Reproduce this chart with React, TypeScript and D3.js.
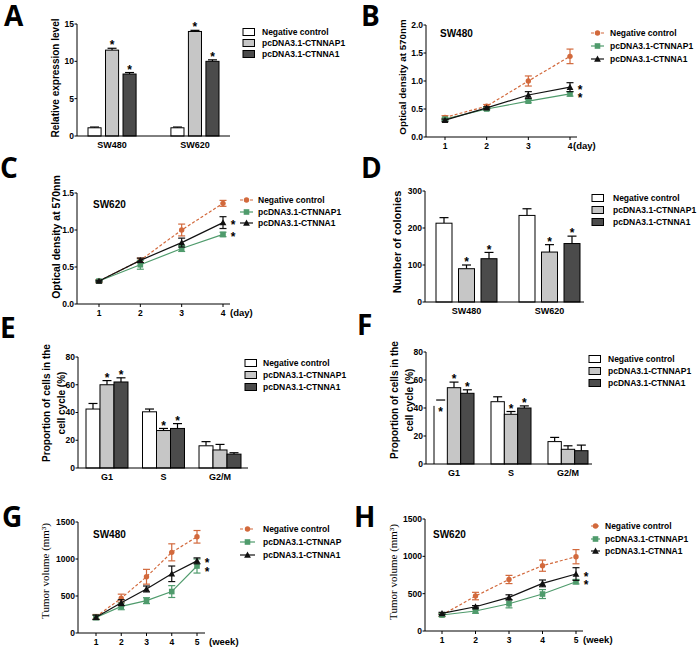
import React from 'react';
import * as d3 from 'd3';

const FONT = "'Liberation Sans', Arial, Helvetica, sans-serif";
const SERIF = "'Liberation Serif', 'Times New Roman', serif";
const LABEL_FONT = "'Open Sans', 'Noto Sans', sans-serif";

const SERIES = ['Negative control', 'pcDNA3.1-CTNNAP1', 'pcDNA3.1-CTNNA1'];
const SERIES_G = ['Negative control', 'pcDNA3.1-CTNNAP', 'pcDNA3.1-CTNNA1'];
const BAR_FILLS = ['#ffffff', '#c6c6c6', '#4b4b4b'];
const LINE_COLORS = ['#d2693c', '#4f9b6c', '#111111'];

// Panel A – relative expression
const aGroups = ['SW480', 'SW620'];
const aMeans = [[1.1, 11.5, 8.3], [1.1, 14.0, 10.0]];
const aErrs = [[0.1, 0.25, 0.2], [0.1, 0.15, 0.2]];
const aSig = [[0, 1, 1], [0, 1, 1]];
const aTicks = [0, 5, 10, 15];

// Panel D – colonies
const dGroups = ['SW480', 'SW620'];
const dMeans = [[213, 90, 117], [234, 135, 158]];
const dErrs = [[15, 10, 17], [18, 20, 20]];
const dSig = [[0, 1, 1], [0, 1, 1]];
const dTicks = [0, 100, 200, 300];

// Panel E – cell cycle SW480
const phaseGroups = ['G1', 'S', 'G2/M'];
const eMeans = [[42.5, 60, 62], [40.5, 27, 28.5], [16, 13, 10]];
const eErrs = [[4, 3, 3], [2, 1.5, 3.5], [3, 4, 1]];
const eSig = [[0, 1, 1], [0, 1, 1], [0, 0, 0]];
const pctTicks = [0, 20, 40, 60, 80];

// Panel F – cell cycle SW620
const fMeans = [[41.5, 54.5, 50.5], [44.5, 35.5, 40], [16, 10.5, 9.5]];
const fErrs = [[4.2, 4, 2.5], [3.5, 2, 1.5], [3, 2.5, 4]];
const fSig = [[1, 1, 1], [0, 1, 1], [0, 0, 0]];

// Panel B – MTT SW480
const days = [1, 2, 3, 4];
const bMeans = [[0.35, 0.55, 1.0, 1.44], [0.32, 0.5, 0.64, 0.77], [0.3, 0.52, 0.75, 0.89]];
const bErrs = [[0.03, 0.03, 0.09, 0.13], [0.02, 0.02, 0.03, 0.04], [0.02, 0.02, 0.06, 0.08]];
const bTicks = [0, 0.5, 1.0, 1.5, 2.0];

// Panel C – MTT SW620
const cMeans = [[0.31, 0.59, 1.0, 1.36], [0.31, 0.53, 0.75, 0.94], [0.31, 0.59, 0.83, 1.1]];
const cErrs = [[0.02, 0.03, 0.08, 0.04], [0.01, 0.06, 0.04, 0.03], [0.01, 0.03, 0.06, 0.08]];
const cTicks = [0, 0.5, 1.0, 1.5];

// Panel G – tumor volume SW480
const weeks = [1, 2, 3, 4, 5];
const gMeans = [[220, 470, 760, 1090, 1300], [210, 360, 437, 560, 905], [212, 410, 595, 800, 975]];
const gErrs = [[30, 55, 100, 115, 85], [30, 45, 40, 80, 95], [30, 40, 40, 105, 40]];
const volTicks = [0, 500, 1000, 1500];

// Panel H – tumor volume SW620
const hMeans = [[214, 468, 690, 875, 995], [214, 268, 365, 495, 660], [235, 325, 450, 638, 763]];
const hErrs = [[20, 50, 55, 75, 95], [20, 30, 55, 60, 30], [15, 15, 35, 45, 85]];

function Star({ x, cy, size = 12 }: any) {
  return (
    <text x={x} y={cy + size * 0.55} textAnchor="middle" fontFamily={FONT} fontWeight="bold" fontSize={size}>*</text>
  );
}

function PanelLabel({ text, x, y }: any) {
  return <text x={x} y={y} fontFamily={LABEL_FONT} fontWeight="bold" fontSize={28}>{text}</text>;
}

function YLabel({ lines, xs, cy, size, serif }: any) {
  return (
    <g>
      {lines.map((l: string, i: number) => (
        <text key={i} transform={`translate(${xs[i]},${cy}) rotate(-90)`} textAnchor="middle" dominantBaseline="central"
          fontFamily={serif ? SERIF : FONT} fontWeight={serif ? 'normal' : 'bold'} fontSize={size}>{l}</text>
      ))}
    </g>
  );
}

function YAxis({ y, ax, ticks, fmt }: any) {
  const [y0, y1] = y.range();
  return (
    <g>
      <line x1={ax} x2={ax} y1={y0} y2={y1} stroke="#000" strokeWidth={1} />
      {ticks.map((t: number) => (
        <g key={t}>
          <line x1={ax - 2.5} x2={ax} y1={y(t)} y2={y(t)} stroke="#000" strokeWidth={1} />
          <text x={ax - 3} y={y(t)} dy="0.35em" textAnchor="end" fontFamily={FONT} fontWeight="bold" fontSize={8.5}>{fmt(t)}</text>
        </g>
      ))}
    </g>
  );
}

function BarPanel({ c }: any) {
  const y = d3.scaleLinear().domain([0, c.yMax]).range([c.y0, c.y1]);
  const gx = d3.scaleBand<string>().domain(c.groups).range(c.gRange).paddingInner(c.gPad).paddingOuter(0);
  const sx = d3.scaleBand<string>().domain(SERIES).range([0, gx.bandwidth()]).paddingInner(c.sPad);
  const bw = sx.bandwidth();
  const fmt = d3.format('d');
  return (
    <g>
      <PanelLabel text={c.label} x={c.lx} y={c.ly} />
      {c.means.map((row: number[], gi: number) => row.map((v: number, si: number) => {
        const bx = (gx(c.groups[gi]) as number) + (sx(SERIES[si]) as number);
        const cx = bx + bw / 2;
        const top = y(v);
        const et = y(v + c.errs[gi][si]);
        const cap = Math.min(4.5, bw / 2);
        if (c.broken && gi === 0 && si === 0) {
          return (
            <g key={`${gi}-${si}`}>
              <line x1={bx} x2={bx} y1={top} y2={c.y0} stroke="#000" strokeWidth={1} />
              <line x1={cx - cap} x2={cx + cap} y1={et} y2={et} stroke="#000" strokeWidth={1.2} />
              {c.sig[gi][si] ? <Star x={cx} cy={top + 3} /> : null}
            </g>
          );
        }
        return (
          <g key={`${gi}-${si}`}>
            <line x1={cx} x2={cx} y1={top} y2={et} stroke="#000" strokeWidth={1.2} />
            <line x1={cx - cap} x2={cx + cap} y1={et} y2={et} stroke="#000" strokeWidth={1.2} />
            <rect x={bx} y={top} width={bw} height={c.y0 - top} fill={BAR_FILLS[si]} stroke="#000" strokeWidth={1} />
            {c.sig[gi][si] ? <Star x={cx} cy={et - 5.5} /> : null}
          </g>
        );
      }))}
      <YAxis y={y} ax={c.ax} ticks={c.ticks} fmt={fmt} />
      <line x1={c.ax} x2={c.axEnd} y1={c.y0} y2={c.y0} stroke="#000" strokeWidth={1} />
      {c.groups.map((g: string) => (
        <text key={g} x={(gx(g) as number) + gx.bandwidth() / 2} y={c.y0 + 11.5} textAnchor="middle"
          fontFamily={FONT} fontWeight="bold" fontSize={9}>{g}</text>
      ))}
      <YLabel lines={c.ylabel} xs={c.ylabelX} cy={c.ylabelY} size={c.ylabelSize} />
      {SERIES.map((s, i) => (
        <g key={s}>
          <rect x={c.legX} y={c.legY[i] - 3.5} width={11.5} height={7} fill={BAR_FILLS[i]} stroke="#000" strokeWidth={1} />
          <text x={c.legTX} y={c.legY[i]} dy="0.35em" fontFamily={FONT} fontWeight="bold" fontSize={8.5}>{s}</text>
        </g>
      ))}
    </g>
  );
}

function Marker({ kind, x, y, color }: any) {
  if (kind === 0) return <circle cx={x} cy={y} r={2.7} fill={color} />;
  if (kind === 1) return <rect x={x - 2.8} y={y - 2.8} width={5.6} height={5.6} fill={color} />;
  const s = 3.4;
  return <path d={`M${x},${y - s}L${x + s},${y + s * 0.8}L${x - s},${y + s * 0.8}Z`} fill={color} />;
}

function LinePanel({ c }: any) {
  const x = d3.scaleLinear().domain([c.xs[0], c.xs[c.xs.length - 1]]).range(c.xRange);
  const y = d3.scaleLinear().domain([0, c.yMax]).range([c.y0, c.y1]);
  const line = d3.line<number>().x((_, i) => x(c.xs[i])).y((d) => y(d));
  const fmt = c.fmt;
  const last = c.xs.length - 1;
  const yBlack = y(c.means[2][last]);
  let yGreen = y(c.means[1][last]);
  if (yGreen - yBlack < 8.5) yGreen = yBlack + 8.5;
  const names = c.legendNames || SERIES;
  return (
    <g>
      <PanelLabel text={c.label} x={c.lx} y={c.ly} />
      <text x={c.titleX} y={c.titleY} fontFamily={FONT} fontWeight="bold" fontSize={10}>{c.title}</text>
      {c.means.map((row: number[], si: number) => (
        <g key={si}>
          <path d={line(row) as string} fill="none" stroke={LINE_COLORS[si]} strokeWidth={1.2}
            strokeDasharray={si === 0 ? '3,2' : undefined} />
          {row.map((v, i) => {
            const px = x(c.xs[i]);
            const lo = y(v - c.errs[si][i]);
            const hi = y(v + c.errs[si][i]);
            return (
              <g key={i}>
                <line x1={px} x2={px} y1={lo} y2={hi} stroke={LINE_COLORS[si]} strokeWidth={1.2} />
                <line x1={px - 3.5} x2={px + 3.5} y1={lo} y2={lo} stroke={LINE_COLORS[si]} strokeWidth={1.2} />
                <line x1={px - 3.5} x2={px + 3.5} y1={hi} y2={hi} stroke={LINE_COLORS[si]} strokeWidth={1.2} />
                <Marker kind={si} x={px} y={y(v)} color={LINE_COLORS[si]} />
              </g>
            );
          })}
        </g>
      ))}
      <Star x={x(c.xs[last]) + 10} cy={yBlack} />
      <Star x={x(c.xs[last]) + 10} cy={yGreen} />
      <YAxis y={y} ax={c.ax} ticks={c.ticks} fmt={fmt} />
      <line x1={c.ax} x2={c.axEnd} y1={c.y0} y2={c.y0} stroke="#000" strokeWidth={1} />
      {c.xs.map((v: number) => (
        <g key={v}>
          <line x1={x(v)} x2={x(v)} y1={c.y0} y2={c.y0 + 3} stroke="#000" strokeWidth={1} />
          <text x={x(v)} y={c.y0 + 12} textAnchor="middle" fontFamily={FONT} fontWeight="bold" fontSize={8.5}>{v}</text>
        </g>
      ))}
      <text x={c.unitX} y={c.y0 + 12} fontFamily={FONT} fontWeight="bold" fontSize={9.5}>{c.unit}</text>
      <YLabel lines={c.ylabel} xs={[c.ylabelX]} cy={c.ylabelY} size={c.ylabelSize} serif={c.serif} />
      {names.map((s: string, i: number) => (
        <g key={s}>
          <line x1={c.legX[0]} x2={c.legX[1]} y1={c.legY[i]} y2={c.legY[i]} stroke={LINE_COLORS[i]} strokeWidth={1.2}
            strokeDasharray={i === 0 ? '3,2' : undefined} />
          <Marker kind={i} x={(c.legX[0] + c.legX[1]) / 2} y={c.legY[i]} color={LINE_COLORS[i]} />
          <text x={c.legTX} y={c.legY[i]} dy="0.35em" fontFamily={FONT} fontWeight="bold" fontSize={8.5}>{s}</text>
        </g>
      ))}
    </g>
  );
}

const f1 = d3.format('.1f');
const fd = d3.format('d');

export default function App() {
  const A = {
    label: 'A', lx: 4, ly: 26, groups: aGroups, means: aMeans, errs: aErrs, sig: aSig, ticks: aTicks, yMax: 15,
    y0: 136, y1: 24, ax: 77, axEnd: 230, gRange: [88, 219], gPad: 0.42, sPad: 0.253,
    ylabel: ['Relative expression level'], ylabelX: [55], ylabelY: 78, ylabelSize: 10,
    legX: 243, legTX: 262, legY: [32, 43, 54],
  };
  const D = {
    label: 'D', lx: 361, ly: 178, groups: dGroups, means: dMeans, errs: dErrs, sig: dSig, ticks: dTicks, yMax: 300,
    y0: 302, y1: 191, ax: 425, axEnd: 584, gRange: [436, 580], gPad: 0.265, sPad: 0.289,
    ylabel: ['Number of colonies'], ylabelX: [397], ylabelY: 242, ylabelSize: 11,
    legX: 592, legTX: 613, legY: [198, 210, 222],
  };
  const E = {
    label: 'E', lx: 0, ly: 338, groups: phaseGroups, means: eMeans, errs: eErrs, sig: eSig, ticks: pctTicks, yMax: 80,
    y0: 468, y1: 357, ax: 78, axEnd: 248, gRange: [86, 241], gPad: 0.257, sPad: 0,
    ylabel: ['Proportion of cells in the', 'cell cycle (%)'], ylabelX: [46, 61], ylabelY: 403, ylabelSize: 10,
    legX: 245, legTX: 263, legY: [363, 375, 387],
  };
  const F = {
    label: 'F', lx: 357, ly: 335, groups: phaseGroups, means: fMeans, errs: fErrs, sig: fSig, ticks: pctTicks, yMax: 80,
    y0: 464, y1: 352, ax: 426, axEnd: 592, gRange: [434, 588], gPad: 0.298, sPad: 0, broken: true,
    ylabel: ['Proportion of cells in the', 'cell cycle (%)'], ylabelX: [394, 409], ylabelY: 400, ylabelSize: 10,
    legX: 589, legTX: 608, legY: [359, 371, 383],
  };
  const B = {
    label: 'B', lx: 361, ly: 26, title: 'SW480', titleX: 440, titleY: 37, xs: days, means: bMeans, errs: bErrs,
    ticks: bTicks, fmt: f1, yMax: 2, y0: 137, y1: 25, ax: 426, axEnd: 577, xRange: [445, 570],
    unit: '(day)', unitX: 573, ylabel: ['Optical density at 570nm'], ylabelX: 402, ylabelY: 77, ylabelSize: 9.8,
    legX: [591, 604], legTX: 610, legY: [33, 46, 59],
  };
  const C = {
    label: 'C', lx: 0, ly: 178, title: 'SW620', titleX: 93, titleY: 208, xs: days, means: cMeans, errs: cErrs,
    ticks: cTicks, fmt: f1, yMax: 1.5, y0: 304, y1: 193, ax: 77, axEnd: 230, xRange: [99, 223],
    unit: '(day)', unitX: 230, ylabel: ['Optical density at 570nm'], ylabelX: 56, ylabelY: 237, ylabelSize: 10.5,
    legX: [240, 253], legTX: 258, legY: [200, 212, 223],
  };
  const G = {
    label: 'G', lx: 2, ly: 527, title: 'SW480', titleX: 93, titleY: 538, xs: weeks, means: gMeans, errs: gErrs,
    ticks: volTicks, fmt: fd, yMax: 1500, y0: 633, y1: 522, ax: 78, axEnd: 205, xRange: [96, 197],
    unit: '(week)', unitX: 209, ylabel: ['Tumor volume (mm³)'], ylabelX: 45, ylabelY: 571, ylabelSize: 11, serif: true,
    legX: [240, 255], legTX: 263, legY: [529, 542, 555], legendNames: SERIES_G,
  };
  const H = {
    label: 'H', lx: 354, ly: 527, title: 'SW620', titleX: 433, titleY: 538, xs: weeks, means: hMeans, errs: hErrs,
    ticks: volTicks, fmt: fd, yMax: 1500, y0: 631, y1: 519, ax: 425, axEnd: 583, xRange: [442, 576],
    unit: '(week)', unitX: 583, ylabel: ['Tumor volume (mm³)'], ylabelX: 393, ylabelY: 572, ylabelSize: 11, serif: true,
    legX: [591, 600], legTX: 605, legY: [526, 539, 551],
  };
  return (
    <svg width={700} height={648} style={{ position: 'absolute', left: 0, top: 0, background: '#fff' }}>
      <rect width={700} height={648} fill="#fff" />
      <BarPanel c={A} />
      <LinePanel c={B} />
      <LinePanel c={C} />
      <BarPanel c={D} />
      <BarPanel c={E} />
      <BarPanel c={F} />
      <LinePanel c={G} />
      <LinePanel c={H} />
    </svg>
  );
}
